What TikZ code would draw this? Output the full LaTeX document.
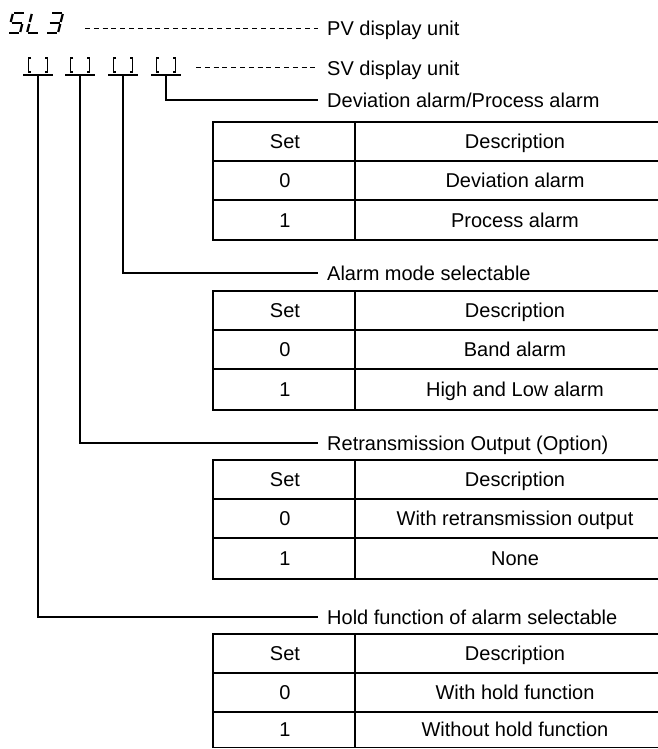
\documentclass[tikz,border=0pt]{standalone}
\usepackage{fontspec}
\setmainfont{Liberation Sans}
\tikzset{
  lbl/.style={font=\fontsize{20}{24}\selectfont, inner sep=0pt, text height=14.3pt, text depth=0pt, anchor=west},
  cell/.style={font=\fontsize{20}{24}\selectfont, inner sep=0pt, text height=14.3pt, text depth=0pt},
  ln/.style={line width=1.3pt},
  dsh/.style={line width=1pt, dash pattern=on 5pt off 3.8pt},
  seg/.style={line width=2.2pt, line cap=butt},
  brk/.style={line width=1.2pt},
}
\newcommand\mytab[5]{%
  \draw[ln] (213,#1) rectangle (690,#2);
  \draw[ln] (213,#1+39) -- (690,#1+39);
  \draw[ln] (213,#1+78) -- (690,#1+78);
  \draw[ln] (355,#1) -- (355,#2);
  \node[cell] (#3h1) at (285,#1+19.5) {Set};
  \node[cell] (#3h2) at (515,#1+19.5) {Description};
  \node[cell] (#3a1) at (285,#1+58.5) {0};
  \node[cell] (#3a2) at (515,#1+58.5) {#4};
  \node[cell] (#3b1) at (285,{(#1+78+#2)/2}) {1};
  \node[cell] (#3b2) at (515,{(#1+78+#2)/2}) {#5};
}
\newcommand\mybrk[2]{%
  \draw[brk] (#1-7,58) -- (#1-9.5,58) -- (#1-9.5,72) -- (#1-7,72);
  \draw[brk] (#1+7,58) -- (#1+9.5,58) -- (#1+9.5,72) -- (#1+7,72);
  \draw[ln] (#1-15,75) -- (#1+15,75);
  \coordinate (#2) at (#1,75);
}
\begin{document}
\begin{tikzpicture}[x=1pt,y=-1pt]
\useasboundingbox (0,0) rectangle (658,749);
\clip (0,0) rectangle (658,749);
\fill[white] (0,0) rectangle (658,749);
% 7-segment "5L3"
\begin{scope}[shift={(8,33)}, xslant=0.25]
  \draw[seg] (1,-20) -- (11,-20);
  \draw[seg] (0,-19) -- (0,-11);
  \draw[seg] (1,-10) -- (11,-10);
  \draw[seg] (12,-9) -- (12,-1);
  \draw[seg] (1,0) -- (11,0);
\end{scope}
\begin{scope}[shift={(27,33)}, xslant=0.25]
  \draw[seg] (0,-19) -- (0,-11);
  \draw[seg] (0,-9) -- (0,-1);
  \draw[seg] (1,0) -- (11,0);
\end{scope}
\begin{scope}[shift={(46,33)}, xslant=0.25]
  \draw[seg] (1,-20) -- (11,-20);
  \draw[seg] (12,-19) -- (12,-11);
  \draw[seg] (1,-10) -- (11,-10);
  \draw[seg] (12,-9) -- (12,-1);
  \draw[seg] (1,0) -- (11,0);
\end{scope}
\coordinate (pvs) at (85,28.5);
\coordinate (svs) at (196,68);
% brackets
\mybrk{38}{u1}
\mybrk{80}{u2}
\mybrk{123}{u3}
\mybrk{166}{u4}
% labels
\node[lbl] (pv) at (327,28.5) {PV display unit};
\node[lbl] (sv) at (327,68) {SV display unit};
\node[lbl] (l4) at (327,100) {Deviation alarm/Process alarm};
\node[lbl] (l3) at (327,273) {Alarm mode selectable};
\node[lbl] (l2) at (327,443) {Retransmission Output (Option)};
\node[lbl] (l1) at (327,617) {Hold function of alarm selectable};
\draw[dsh] (pvs) -- ([xshift=-9pt]pv.west);
\draw[dsh] (svs) -- ([xshift=-9pt]sv.west);
\draw[ln] (u4) |- ([xshift=-9pt]l4.west);
\draw[ln] (u3) |- ([xshift=-9pt]l3.west);
\draw[ln] (u2) |- ([xshift=-9pt]l2.west);
\draw[ln] (u1) |- ([xshift=-9pt]l1.west);
% tables
\mytab{122}{240}{ta}{Deviation alarm}{Process alarm}
\mytab{291}{410}{tb}{Band alarm}{High and Low alarm}
\mytab{460}{579}{tc}{With retransmission output}{None}
\mytab{634}{747.5}{td}{With hold function}{Without hold function}
\end{tikzpicture}
\end{document}
